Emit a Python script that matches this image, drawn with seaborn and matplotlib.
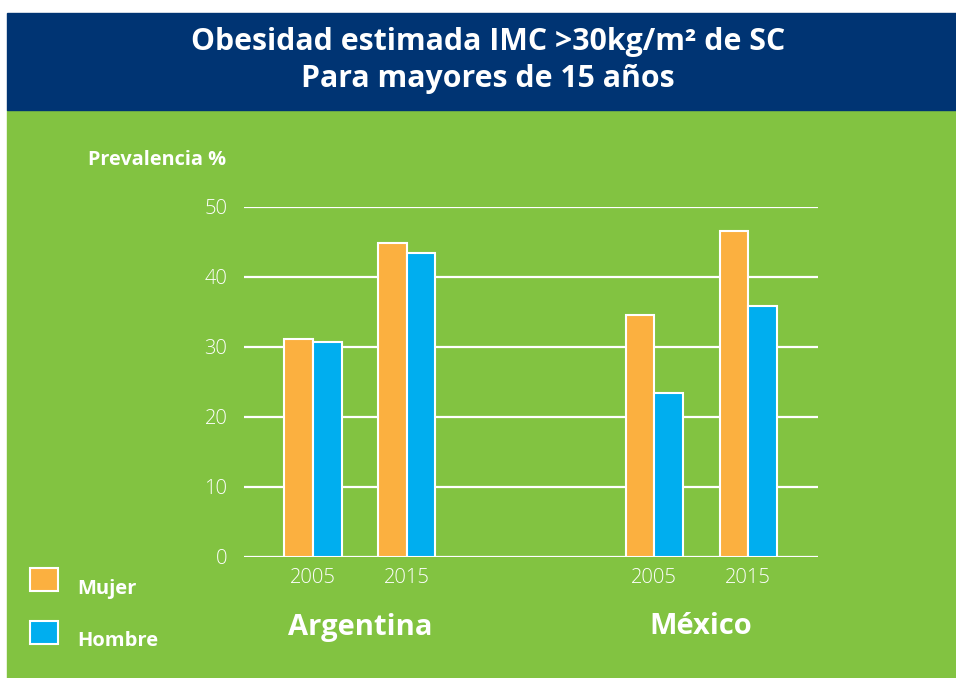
import matplotlib
matplotlib.use("Agg")
import matplotlib.pyplot as plt
from matplotlib.patches import Rectangle
import seaborn as sns
import pandas as pd

# datos (prevalencia %)
paises = ["Argentina", "México"]
anios = ["2005", "2015"]
sexos = ["Mujer", "Hombre"]
mujer = [31.1, 44.9, 34.6, 46.6]
hombre = [30.7, 43.4, 23.4, 35.8]
yticks = [0, 10, 20, 30, 40, 50]

# posición de cada grupo país-año en el eje x (hueco entre países)
slots = [0.0, 1.0, 3.64, 4.64]

VERDE = "#82C341"
AZUL_OSC = "#003473"
NARANJA = "#FBB040"
CELESTE = "#00AEEF"
FUENTE = ["Open Sans", "DejaVu Sans"]

filas = []
i = 0
for p in paises:
    for a in anios:
        filas.append(dict(pais=p, anio=a, pos=slots[i], sexo="Mujer", valor=mujer[i]))
        filas.append(dict(pais=p, anio=a, pos=slots[i], sexo="Hombre", valor=hombre[i]))
        i += 1
df = pd.DataFrame(filas)

sns.set_style("white")
plt.rcParams["font.family"] = FUENTE

fig = plt.figure(figsize=(9.56, 6.78), dpi=100)
fig.patch.set_facecolor("white")
# fondo verde y cabecera azul
fig.add_artist(Rectangle((7 / 956, 0), 1, 1 - 110 / 678, transform=fig.transFigure,
                         color=VERDE, zorder=0))
fig.add_artist(Rectangle((7 / 956, 1 - 110 / 678), 1, 97 / 678, transform=fig.transFigure,
                         color=AZUL_OSC, zorder=0))
fig.text(488 / 956, 1 - 42 / 678, "Obesidad estimada IMC >30kg/m² de SC", color="white",
         fontsize=21.8, fontweight="bold", ha="center", va="center")
fig.text(488 / 956, 1 - 79 / 678, "Para mayores de 15 años", color="white",
         fontsize=21.8, fontweight="bold", ha="center", va="center")

ax = fig.add_axes([244 / 956, 121 / 678, 574 / 956, 350 / 678])
ax.set_facecolor("none")
sns.barplot(data=df, x="pos", y="valor", hue="sexo", hue_order=sexos,
            palette=[NARANJA, CELESTE], native_scale=True, width=0.61,
            edgecolor="white", linewidth=1.5, saturation=1, ax=ax, zorder=3)

ax.set_ylim(0, 50)
ax.set_xlim(slots[0] - 0.735, slots[-1] + 0.745)
ax.set_yticks(yticks)
ax.set_yticklabels([str(t) for t in yticks], color="white", fontsize=14.5, fontweight="light")
ax.tick_params(axis="y", length=0, pad=12)
ax.set_xticks(slots)
ax.set_xticklabels(anios * len(paises), color="white", fontsize=14.5, fontweight="light")
ax.tick_params(axis="x", length=0, pad=8)
ax.yaxis.grid(True, color="white", linewidth=1.6, zorder=0)
ax.set_axisbelow(True)
for s in ax.spines.values():
    s.set_visible(False)
ax.set_xlabel("")
ax.set_ylabel("")

# nombres de países centrados bajo sus grupos
for k, p in enumerate(paises):
    centro = (slots[2 * k] + slots[2 * k + 1]) / 2
    ax.text(centro, -10.0, p, color="white", fontsize=21, fontweight="bold",
            ha="center", va="center", transform=ax.transData)

fig.text(88 / 956, 1 - 160 / 678, "Prevalencia %", color="white", fontsize=14.3,
         fontweight="bold", ha="left", va="center")

handles, labels = ax.get_legend_handles_labels()
if ax.legend_:
    ax.legend_.remove()
leg = fig.legend(handles, labels, loc="upper left", bbox_to_anchor=(22 / 956, 1 - 560 / 678),
                 frameon=False, fontsize=14.5, handlelength=1.4, handleheight=1.4,
                 handletextpad=0.95, labelspacing=1.45, borderaxespad=0)
for t in leg.get_texts():
    t.set_color("white")
    t.set_fontweight("bold")
    t.set_va("center_baseline")
for h in leg.legend_handles:
    h.set_edgecolor("white")
    h.set_linewidth(1.5)

fig.savefig("out.png", dpi=100, facecolor=fig.get_facecolor())
